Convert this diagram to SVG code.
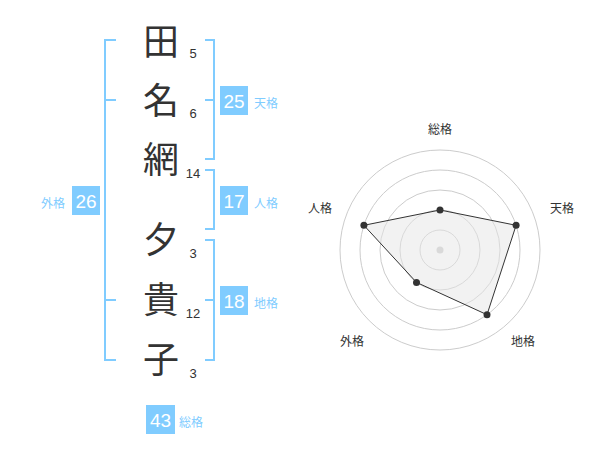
<svg xmlns="http://www.w3.org/2000/svg" width="600" height="470" viewBox="0 0 600 470">
<style>
.k{font-family:"Noto Sans CJK JP","Noto Sans CJK SC",sans-serif;font-size:36px;fill:#333;text-anchor:middle}
.n{font-family:"Liberation Sans",Arial,sans-serif;font-size:13px;fill:#333;text-anchor:middle}
.br{fill:none;stroke:#80ccff;stroke-width:2}
.box{fill:#80ccff}
.bn{font-family:"Liberation Sans",Arial,sans-serif;font-size:19px;fill:#fff;text-anchor:middle}
.bl{font-family:"Noto Sans CJK JP","Noto Sans CJK SC",sans-serif;font-size:12px;fill:#80ccff}
.ring{fill:none;stroke:#ccc;stroke-width:1}
.rl{font-family:"Noto Sans CJK JP","Noto Sans CJK SC",sans-serif;font-size:12px;fill:#333;text-anchor:middle}
.dot{fill:#333}
</style>
<rect width="600" height="470" fill="#fff"/>
<g id="connectors">
<path class="br" d="M116,40 H105 V360 H116 M105,100 H116 M105,300 H116"/>
<path class="br" d="M205,40 H214 V159 H205 M214,100 H205"/>
<path class="br" d="M205,170 H214 V229 H205"/>
<path class="br" d="M205,240 H214 V360 H205 M214,300 H205"/>
</g>
<g id="chars">
<text class="k" x="161" y="55">田</text>
<text class="k" x="161" y="114">名</text>
<text class="k" x="161" y="173">網</text>
<text class="k" x="161" y="253">夕</text>
<text class="k" x="161" y="313">貴</text>
<text class="k" x="161" y="373">子</text>
</g>
<g id="strokes">
<text class="n" x="193" y="58">5</text>
<text class="n" x="193" y="118">6</text>
<text class="n" x="193" y="178">14</text>
<text class="n" x="193" y="258">3</text>
<text class="n" x="193" y="318">12</text>
<text class="n" x="193" y="378">3</text>
</g>
<g id="tenkaku">
<rect class="box" x="220" y="86" width="28" height="29"/>
<text class="bn" x="234" y="107.5">25</text>
<text class="bl" x="254" y="108">天格</text>
</g>
<g id="jinkaku">
<rect class="box" x="220" y="186" width="28" height="29"/>
<text class="bn" x="234" y="207.5">17</text>
<text class="bl" x="254" y="208">人格</text>
</g>
<g id="chikaku">
<rect class="box" x="220" y="286" width="28" height="29"/>
<text class="bn" x="234" y="307.5">18</text>
<text class="bl" x="254" y="308">地格</text>
</g>
<g id="gaikaku">
<rect class="box" x="72" y="186" width="28" height="29"/>
<text class="bn" x="86" y="207.5">26</text>
<text class="bl" x="41" y="208">外格</text>
</g>
<g id="soukaku">
<rect class="box" x="146" y="405" width="29" height="29"/>
<text class="bn" x="160.5" y="426.5">43</text>
<text class="bl" x="179" y="427">総格</text>
</g>
<g id="radar">
<circle class="ring" cx="440" cy="250" r="20"/>
<circle class="ring" cx="440" cy="250" r="40"/>
<circle class="ring" cx="440" cy="250" r="60"/>
<circle class="ring" cx="440" cy="250" r="80"/>
<circle class="ring" cx="440" cy="250" r="100"/>
<circle cx="440" cy="250" r="3.5" fill="#ccc"/>
<polygon points="440,210 516.1,225.3 487,314.7 416.5,282.4 363.9,225.3" fill="#e6e6e6" fill-opacity="0.5" stroke="#333" stroke-width="1"/>
<circle class="dot" cx="440" cy="210" r="3.5"/>
<circle class="dot" cx="516.1" cy="225.3" r="3.5"/>
<circle class="dot" cx="487" cy="314.7" r="3.5"/>
<circle class="dot" cx="416.5" cy="282.4" r="3.5"/>
<circle class="dot" cx="363.9" cy="225.3" r="3.5"/>
<text class="rl" x="440" y="134">総格</text>
<text class="rl" x="562" y="213">天格</text>
<text class="rl" x="523" y="346">地格</text>
<text class="rl" x="352" y="346">外格</text>
<text class="rl" x="320" y="213">人格</text>
</g>
</svg>
